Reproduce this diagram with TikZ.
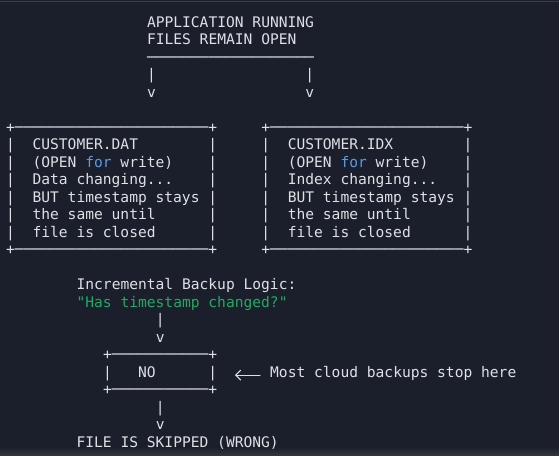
\documentclass[tikz,border=0pt]{standalone}
\usepackage{fontspec}
\setmonofont{DejaVu Sans Mono}
\usetikzlibrary{arrows.meta}
\definecolor{bgcol}{RGB}{27,31,43}
\definecolor{bgfoot}{RGB}{48,52,62}
\definecolor{edgecol}{RGB}{58,62,74}
\definecolor{txtcol}{RGB}{222,224,228}
\definecolor{kwblue}{RGB}{86,156,230}
\definecolor{strgreen}{RGB}{32,170,100}
\frenchspacing

\begin{document}
\begin{tikzpicture}[line cap=round,line join=round,x=8.8pt,y=-17.5pt,
		mono/.style={anchor=base west,inner sep=0pt,text=txtcol,font=\ttfamily\fontsize{14.6}{17.5}\selectfont},
		larrow/.style={draw=txtcol,line width=1pt,-{Straight Barb[length=5pt,width=10pt]}}]
		\useasboundingbox (-0.682,-1.56) rectangle (62.841,24.44);
		\fill[bgcol] (-0.682,-1.56) rectangle (62.841,24.44);
		\draw[edgecol,line width=1pt] (-0.682,-1.5) -- (62.841,-1.5);
		\shade[top color=bgcol,bottom color=bgfoot] (-0.682,23.98) rectangle (62.841,24.44);
		% application
		\node[mono] (app1) at (16,0) {APPLICATION RUNNING};
		\node[mono] (app2) at (16,1) {FILES REMAIN OPEN};
		\node[mono] (appline) at (16,2) {───────────────────};
		\node[mono] (appbarL) at (16,3) {|};
		\node[mono] (appbarR) at (34,3) {|};
		\node[mono] (appvL) at (16,4) {v};
		\node[mono] (appvR) at (34,4) {v};
		% CUSTOMER.DAT
		\node[mono] (dattop) at (0,6) {+──────────────────────+};
		\node[mono] (dat1) at (0,7) {|~~CUSTOMER.DAT~~~~~~~~|};
		\node[mono] (dat2) at (0,8) {|~~(OPEN \textcolor{kwblue}{for} write)~~~~|};
		\node[mono] (dat3) at (0,9) {|~~Data changing...~~~~|};
		\node[mono] (dat4) at (0,10) {|~~BUT timestamp stays~|};
		\node[mono] (dat5) at (0,11) {|~~the same until~~~~~~|};
		\node[mono] (dat6) at (0,12) {|~~file is closed~~~~~~|};
		\node[mono] (datbot) at (0,13) {+──────────────────────+};
		% CUSTOMER.IDX
		\node[mono] (idxtop) at (29,6) {+──────────────────────+};
		\node[mono] (idx1) at (29,7) {|~~CUSTOMER.IDX~~~~~~~~|};
		\node[mono] (idx2) at (29,8) {|~~(OPEN \textcolor{kwblue}{for} write)~~~~|};
		\node[mono] (idx3) at (29,9) {|~~Index changing...~~~|};
		\node[mono] (idx4) at (29,10) {|~~BUT timestamp stays~|};
		\node[mono] (idx5) at (29,11) {|~~the same until~~~~~~|};
		\node[mono] (idx6) at (29,12) {|~~file is closed~~~~~~|};
		\node[mono] (idxbot) at (29,13) {+──────────────────────+};
		% backup logic
		\node[mono] (logic) at (8,15) {Incremental Backup Logic:};
		\node[mono,text=strgreen] (question) at (8,16) {"Has timestamp changed?"};
		\node[mono] (qbar) at (17,17) {|};
		\node[mono] (qv) at (17,18) {v};
		\node[mono] (notop) at (11,19) {+───────────+};
		\node[mono] (no) at (11,20) {|~~~NO~~~~~~|};
		\node[mono] (nobot) at (11,21) {+───────────+};
		\node[mono] (most) at (30,20) {Most cloud backups stop here};
		\draw[larrow] ([xshift=-10pt]most.mid west) -- ([xshift=-35pt]most.mid west);
		\node[mono] (skipbar) at (17,22) {|};
		\node[mono] (skipv) at (17,23) {v};
		\node[mono] (skip) at (8,24) {FILE IS SKIPPED (WRONG)};
	\end{tikzpicture}
\end{document}
